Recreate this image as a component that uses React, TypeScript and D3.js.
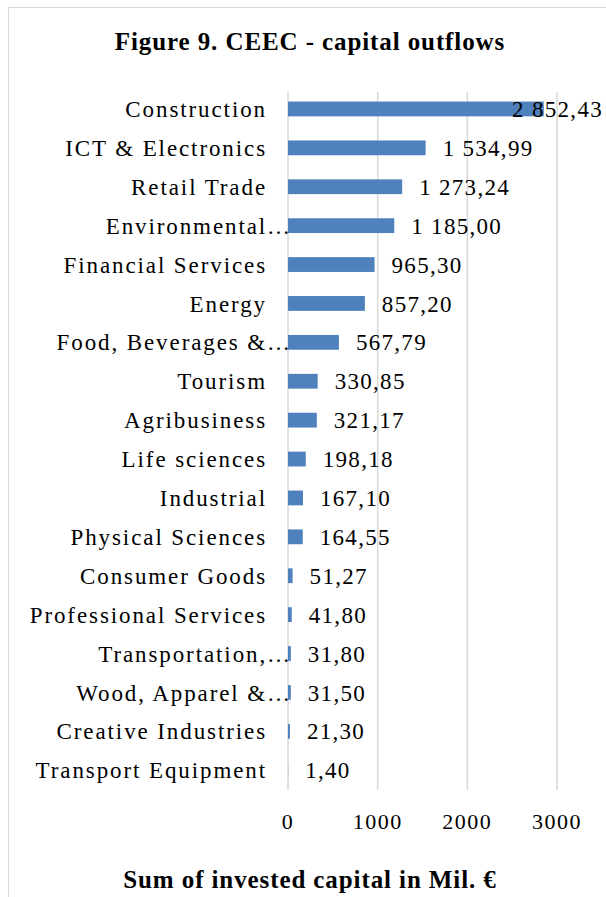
import { useEffect, useRef } from "react"
import * as d3 from "d3"

const categories = [
  "Construction",
  "ICT & Electronics",
  "Retail Trade",
  "Environmental…",
  "Financial Services",
  "Energy",
  "Food, Beverages &…",
  "Tourism",
  "Agribusiness",
  "Life sciences",
  "Industrial",
  "Physical Sciences",
  "Consumer Goods",
  "Professional Services",
  "Transportation,…",
  "Wood, Apparel &…",
  "Creative Industries",
  "Transport Equipment",
]

const values = [
  2852.43, 1534.99, 1273.24, 1185.0, 965.3, 857.2, 567.79, 330.85, 321.17,
  198.18, 167.1, 164.55, 51.27, 41.8, 31.8, 31.5, 21.3, 1.4,
]

const ticks = [0, 1000, 2000, 3000]

const FONT = "'Liberation Serif', 'DejaVu Serif', serif"

function fmt(v: number): string {
  const [int, dec] = v.toFixed(2).split(".")
  const withSpaces = int.replace(/\B(?=(\d{3})+(?!\d))/g, " ")
  return `${withSpaces},${dec}`
}

export default function App() {
  const svgRef = useRef<SVGSVGElement>(null)

  useEffect(() => {
    if (!svgRef.current) return
    document.body.style.margin = "0"

    const width = 606
    const height = 897
    const svg = d3.select(svgRef.current)
    svg.selectAll("*").remove()
    svg.attr("width", width).attr("height", height)

    svg.append("rect")
      .attr("width", width)
      .attr("height", height)
      .attr("fill", "#fff")

    // chart border
    svg.append("rect")
      .attr("x", 8.5)
      .attr("y", 7.5)
      .attr("width", 620)
      .attr("height", 920)
      .attr("fill", "none")
      .attr("stroke", "#d9d9d9")

    const x = d3.scaleLinear().domain([0, 3000]).range([288, 557])
    const y = d3.scaleBand<string>()
      .domain(categories)
      .range([89.5, 789.7])
      .paddingInner(0.62)
      .paddingOuter(0.31)

    const g = svg.append("g")

    // gridlines
    g.selectAll("line.grid")
      .data(ticks)
      .join("line")
      .attr("class", "grid")
      .attr("x1", d => x(d))
      .attr("x2", d => x(d))
      .attr("y1", 92)
      .attr("y2", 790)
      .attr("stroke", "#d9d9d9")
      .attr("stroke-width", 1.5)

    g.selectAll("rect.bar")
      .data(values)
      .join("rect")
      .attr("class", "bar")
      .attr("x", x(0))
      .attr("y", (_, i) => y(categories[i])!)
      .attr("width", d => x(d) - x(0))
      .attr("height", y.bandwidth())
      .attr("fill", "#4f81bd")

    // category labels
    g.selectAll("text.cat")
      .data(categories)
      .join("text")
      .attr("class", "cat")
      .attr("x", d => (d.endsWith("…") ? 292 : 267))
      .attr("y", d => y(d)! + y.bandwidth() / 2)
      .attr("dy", "0.35em")
      .attr("text-anchor", "end")
      .style("font-family", FONT)
      .style("font-size", "23px")
      .style("letter-spacing", "1.9px")
      .attr("fill", "#000")
      .text(d => d)

    // value labels
    g.selectAll("text.val")
      .data(values)
      .join("text")
      .attr("class", "val")
      .attr("x", d => (x(d) + 105 > width ? 603 : x(d) + 17))
      .attr("text-anchor", d => (x(d) + 105 > width ? "end" : "start"))
      .attr("y", (_, i) => y(categories[i])! + y.bandwidth() / 2)
      .attr("dy", "0.35em")
      .style("font-family", FONT)
      .style("font-size", "23px")
      .style("letter-spacing", "1.3px")
      .attr("fill", "#000")
      .text(d => fmt(d))

    // x tick labels
    g.selectAll("text.tick")
      .data(ticks)
      .join("text")
      .attr("class", "tick")
      .attr("x", d => x(d))
      .attr("y", 829)
      .attr("text-anchor", "middle")
      .style("font-family", FONT)
      .style("font-size", "22px")
      .style("letter-spacing", "1.5px")
      .attr("fill", "#000")
      .text(d => String(d))

    svg.append("text")
      .attr("x", 310)
      .attr("y", 50)
      .attr("text-anchor", "middle")
      .style("font-family", FONT)
      .style("font-size", "25px")
      .style("font-weight", "bold")
      .style("letter-spacing", "0.9px")
      .text("Figure 9. CEEC - capital outflows")

    svg.append("text")
      .attr("x", 310)
      .attr("y", 888)
      .attr("text-anchor", "middle")
      .style("font-family", FONT)
      .style("font-size", "25px")
      .style("font-weight", "bold")
      .style("letter-spacing", "0.9px")
      .text("Sum of invested capital in Mil. €")
  }, [])

  return <svg ref={svgRef} style={{ display: "block" }} />
}
